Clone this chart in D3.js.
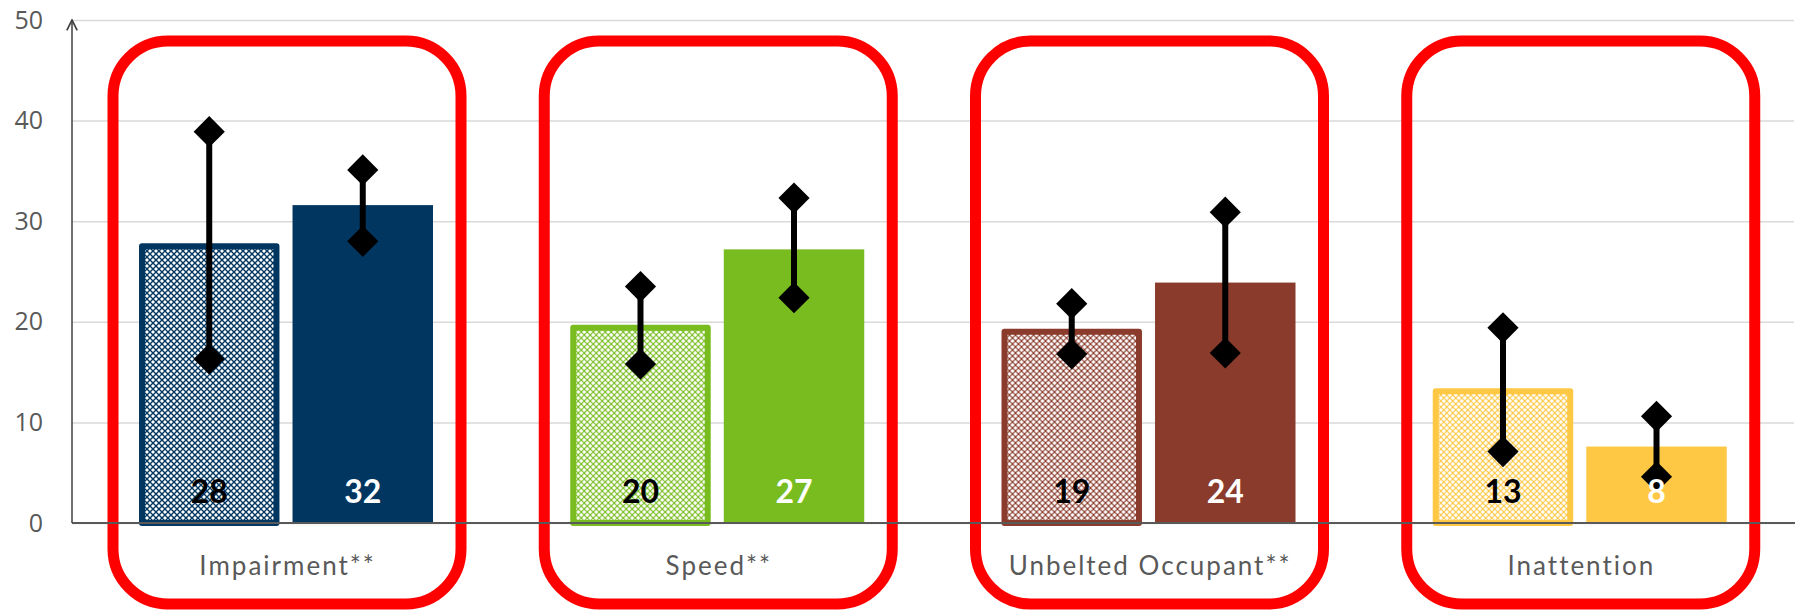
<!DOCTYPE html>
<html>
<head>
<meta charset="utf-8">
<script src="https://cdn.jsdelivr.net/npm/d3@7"></script>
<style>
  body { margin: 0; background: #fff; }
</style>
</head>
<body>
<div id="chart"></div>
<script>
// data
var categories = ["Impairment**", "Speed**", "Unbelted Occupant**", "Inattention"];
var colors = ["#003660", "#78bc20", "#8a3b2c", "#fec844"];
var hatchedValues = [27.8, 19.7, 19.3, 13.4];
var hatchedLabels = ["28", "20", "19", "13"];
var hatchedLow = [16.3, 15.8, 16.8, 7.1];
var hatchedHigh = [38.9, 23.5, 21.8, 19.4];
var solidValues = [31.6, 27.2, 23.9, 7.6];
var solidLabels = ["32", "27", "24", "8"];
var solidLow = [28.0, 22.4, 16.9, 4.6];
var solidHigh = [35.1, 32.3, 30.9, 10.6];
var yTicks = [0, 10, 20, 30, 40, 50];

var svgWidth = 1797;
var svgHeight = 610;
var margin = { top: 20, right: 0, bottom: 87, left: 72 };
var chartWidth = svgWidth - margin.left - margin.right;
var chartHeight = svgHeight - margin.top - margin.bottom;

var svg = d3.select("#chart")
  .append("svg")
  .attr("width", svgWidth)
  .attr("height", svgHeight);

var defs = svg.append("defs");

// fine lattice patterns for the hatched bars
colors.forEach(function (c, i) {
  var p = defs.append("pattern")
    .attr("id", "hatch" + i)
    .attr("patternUnits", "userSpaceOnUse")
    .attr("width", 6)
    .attr("height", 6);
  p.append("rect").attr("width", 6).attr("height", 6).attr("fill", "#fff");
  p.append("path")
    .attr("d", "M0,0L6,6M6,0L0,6")
    .attr("stroke", c)
    .attr("stroke-width", i == 0 ? 1.4 : 1.2);
  p.append("circle").attr("cx", 3).attr("cy", 3).attr("r", 0.8).attr("fill", c);
});

defs.append("marker")
  .attr("id", "arrow")
  .attr("viewBox", "0 0 10 10")
  .attr("refX", 9).attr("refY", 5)
  .attr("markerWidth", 13).attr("markerHeight", 13)
  .attr("markerUnits", "userSpaceOnUse")
  .attr("orient", "auto")
  .append("path")
  .attr("d", "M1,1L9,5L1,9")
  .attr("fill", "none")
  .attr("stroke", "#404040")
  .attr("stroke-width", 1.3);

var chartGroup = svg.append("g")
  .attr("transform", `translate(${margin.left}, ${margin.top})`);

var xBandScale = d3.scaleBand()
  .domain(categories)
  .range([0, chartWidth]);

var xInner = d3.scaleBand()
  .domain(["hatched", "solid"])
  .range([67, 361])
  .paddingInner(0.085);

var yLinearScale = d3.scaleLinear()
  .domain([0, 50])
  .range([chartHeight, 0]);

// gridlines
chartGroup.append("g")
  .attr("class", "grid")
  .call(d3.axisLeft(yLinearScale).tickValues(yTicks).tickSize(-chartWidth + 3).tickFormat(""))
  .call(g => g.select(".domain").remove())
  .call(g => g.selectAll("line").attr("stroke", "#d9d9d9").attr("stroke-width", 1.5));

// y tick labels
chartGroup.append("g")
  .call(d3.axisLeft(yLinearScale).tickValues(yTicks).tickSize(0).tickPadding(29))
  .call(g => g.select(".domain").remove())
  .call(g => g.selectAll("text")
    .attr("fill", "#595959")
    .style("font-family", "'Open Sans', Lato, sans-serif")
    .style("font-size", "25px"));

var data = categories.map(function (c, i) {
  return {
    cat: c, i: i,
    bars: [
      { key: "hatched", value: hatchedValues[i], label: hatchedLabels[i], low: hatchedLow[i], high: hatchedHigh[i] },
      { key: "solid", value: solidValues[i], label: solidLabels[i], low: solidLow[i], high: solidHigh[i] }
    ]
  };
});

var groups = chartGroup.selectAll(".cat")
  .data(data)
  .enter()
  .append("g")
  .attr("class", "cat")
  .attr("transform", d => `translate(${xBandScale(d.cat)}, 0)`);

// bars
groups.each(function (d) {
  var g = d3.select(this);
  d.bars.forEach(function (b) {
    if (b.key == "hatched") {
      g.append("rect")
        .attr("x", xInner(b.key) + 3)
        .attr("y", yLinearScale(b.value) + 3)
        .attr("width", xInner.bandwidth() - 6)
        .attr("height", chartHeight - yLinearScale(b.value) - 3)
        .attr("fill", "url(#hatch" + d.i + ")")
        .attr("stroke", colors[d.i])
        .attr("stroke-width", 6)
        .attr("stroke-linejoin", "round");
    } else {
      g.append("rect")
        .attr("x", xInner(b.key))
        .attr("y", yLinearScale(b.value))
        .attr("width", xInner.bandwidth())
        .attr("height", chartHeight - yLinearScale(b.value))
        .attr("fill", colors[d.i]);
    }
  });
});

// x axis baseline
chartGroup.append("line")
  .attr("x1", 0).attr("x2", chartWidth - 2)
  .attr("y1", chartHeight).attr("y2", chartHeight)
  .attr("stroke", "#595959")
  .attr("stroke-width", 2);

// y axis with arrow
chartGroup.append("line")
  .attr("x1", 0).attr("x2", 0)
  .attr("y1", chartHeight).attr("y2", 0)
  .attr("stroke", "#404040")
  .attr("stroke-width", 1.5)
  .attr("marker-end", "url(#arrow)");

// error bars with diamond ends
var diamond = d3.symbol().type(d3.symbolDiamond2).size(620);
groups.each(function (d) {
  var g = d3.select(this);
  d.bars.forEach(function (b) {
    var cx = xInner(b.key) + xInner.bandwidth() / 2;
    g.append("line")
      .attr("x1", cx).attr("x2", cx)
      .attr("y1", yLinearScale(b.low)).attr("y2", yLinearScale(b.high))
      .attr("stroke", "#000")
      .attr("stroke-width", 6);
    [b.low, b.high].forEach(function (v) {
      g.append("path")
        .attr("d", diamond)
        .attr("transform", `translate(${cx}, ${yLinearScale(v)})`)
        .attr("fill", "#000");
    });
  });
});

// value labels
groups.each(function (d) {
  var g = d3.select(this);
  d.bars.forEach(function (b) {
    g.append("text")
      .attr("x", xInner(b.key) + xInner.bandwidth() / 2)
      .attr("y", chartHeight - 20)
      .attr("text-anchor", "middle")
      .attr("fill", b.key == "hatched" ? "#000" : "#fff")
      .style("font-family", "Lato, 'Open Sans', sans-serif")
      .style("font-weight", "bold")
      .style("font-size", "32px")
      .text(b.label);
  });
});

// red highlight boxes
groups.append("rect")
  .attr("x", 41)
  .attr("y", 21)
  .attr("width", 348)
  .attr("height", 563)
  .attr("rx", 55)
  .attr("ry", 55)
  .attr("fill", "none")
  .attr("stroke", "#ff0000")
  .attr("stroke-width", 11);

// category labels
groups.append("text")
  .attr("x", xBandScale.bandwidth() / 2)
  .attr("y", chartHeight + 52)
  .attr("text-anchor", "middle")
  .attr("fill", "#595959")
  .style("font-family", "Lato, 'Open Sans', sans-serif")
  .style("font-size", "26px")
  .style("letter-spacing", "2px")
  .text(d => d.cat);
</script>
</body>
</html>
